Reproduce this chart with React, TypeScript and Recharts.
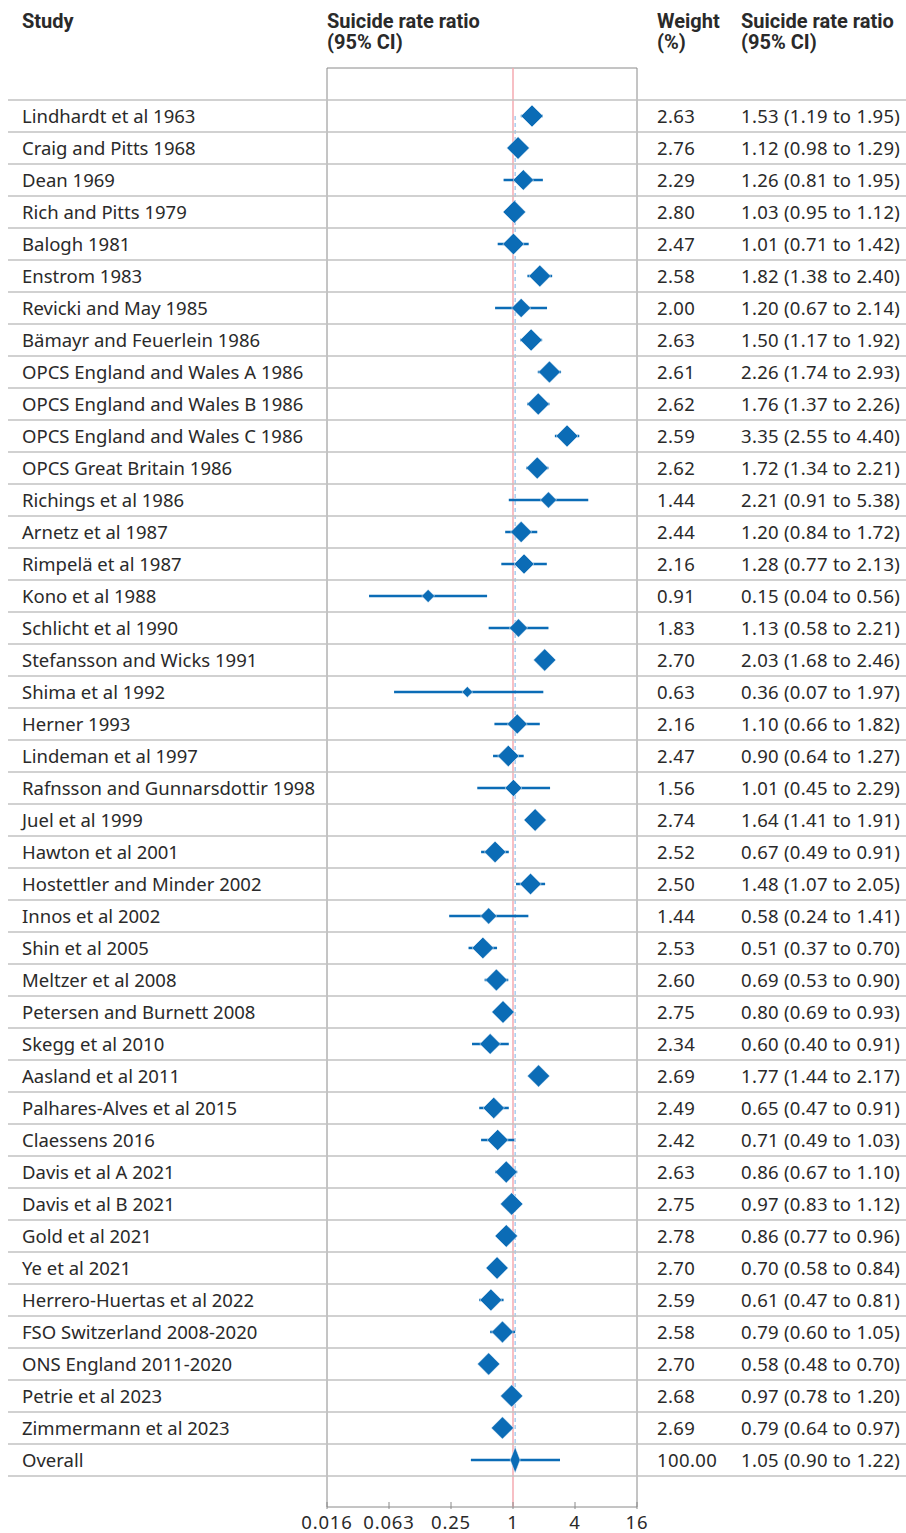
import React from 'react';
import {
  ScatterChart,
  Scatter,
  XAxis,
  YAxis,
  ErrorBar,
  ReferenceLine,
  ReferenceArea,
} from 'recharts';

const studies = [
  'Lindhardt et al 1963',
  'Craig and Pitts 1968',
  'Dean 1969',
  'Rich and Pitts 1979',
  'Balogh 1981',
  'Enstrom 1983',
  'Revicki and May 1985',
  'Bämayr and Feuerlein 1986',
  'OPCS England and Wales A 1986',
  'OPCS England and Wales B 1986',
  'OPCS England and Wales C 1986',
  'OPCS Great Britain 1986',
  'Richings et al 1986',
  'Arnetz et al 1987',
  'Rimpelä et al 1987',
  'Kono et al 1988',
  'Schlicht et al 1990',
  'Stefansson and Wicks 1991',
  'Shima et al 1992',
  'Herner 1993',
  'Lindeman et al 1997',
  'Rafnsson and Gunnarsdottir 1998',
  'Juel et al 1999',
  'Hawton et al 2001',
  'Hostettler and Minder 2002',
  'Innos et al 2002',
  'Shin et al 2005',
  'Meltzer et al 2008',
  'Petersen and Burnett 2008',
  'Skegg et al 2010',
  'Aasland et al 2011',
  'Palhares-Alves et al 2015',
  'Claessens 2016',
  'Davis et al A 2021',
  'Davis et al B 2021',
  'Gold et al 2021',
  'Ye et al 2021',
  'Herrero-Huertas et al 2022',
  'FSO Switzerland 2008-2020',
  'ONS England 2011-2020',
  'Petrie et al 2023',
  'Zimmermann et al 2023',
  'Overall',
];

const weights = [
  2.63, 2.76, 2.29, 2.8, 2.47, 2.58, 2.0, 2.63, 2.61, 2.62, 2.59, 2.62, 1.44, 2.44, 2.16,
  0.91, 1.83, 2.7, 0.63, 2.16, 2.47, 1.56, 2.74, 2.52, 2.5, 1.44, 2.53, 2.6, 2.75, 2.34,
  2.69, 2.49, 2.42, 2.63, 2.75, 2.78, 2.7, 2.59, 2.58, 2.7, 2.68, 2.69, 100.0,
];

const estimates = [
  1.53, 1.12, 1.26, 1.03, 1.01, 1.82, 1.2, 1.5, 2.26, 1.76, 3.35, 1.72, 2.21, 1.2, 1.28,
  0.15, 1.13, 2.03, 0.36, 1.1, 0.9, 1.01, 1.64, 0.67, 1.48, 0.58, 0.51, 0.69, 0.8, 0.6,
  1.77, 0.65, 0.71, 0.86, 0.97, 0.86, 0.7, 0.61, 0.79, 0.58, 0.97, 0.79, 1.05,
];

const lowers = [
  1.19, 0.98, 0.81, 0.95, 0.71, 1.38, 0.67, 1.17, 1.74, 1.37, 2.55, 1.34, 0.91, 0.84, 0.77,
  0.04, 0.58, 1.68, 0.07, 0.66, 0.64, 0.45, 1.41, 0.49, 1.07, 0.24, 0.37, 0.53, 0.69, 0.4,
  1.44, 0.47, 0.49, 0.67, 0.83, 0.77, 0.58, 0.47, 0.6, 0.48, 0.78, 0.64, 0.9,
];

const uppers = [
  1.95, 1.29, 1.95, 1.12, 1.42, 2.4, 2.14, 1.92, 2.93, 2.26, 4.4, 2.21, 5.38, 1.72, 2.13,
  0.56, 2.21, 2.46, 1.97, 1.82, 1.27, 2.29, 1.91, 0.91, 2.05, 1.41, 0.7, 0.9, 0.93, 0.91,
  2.17, 0.91, 1.03, 1.1, 1.12, 0.96, 0.84, 0.81, 1.05, 0.7, 1.2, 0.97, 1.22,
];

// prediction interval drawn as the whisker of the overall row
const predictionInterval = [0.39, 2.86];

const xTicks = [0.015625, 0.0625, 0.25, 1, 4, 16];
const xTickLabels = ['0.016', '0.063', '0.25', '1', '4', '16'];

const BLUE = '#0b6cb6';
const TEXT = '#2a2a2a';
const GRID = '#c2c2c2';
const BODY_FONT = '"Noto Sans", sans-serif';
const HEAD_FONT = 'Roboto, "Noto Sans", sans-serif';

const overallIndex = studies.length - 1;
const yDomain: [number, number] = [-1.5, 43.47];

const rows = studies.map((name, i) => ({
  row: i,
  name,
  weight: weights[i],
  est: estimates[i],
  lo: lowers[i],
  hi: uppers[i],
  overall: i === overallIndex,
}));

const studyRows = rows
  .filter((r) => !r.overall)
  .map((r) => ({ ...r, err: [r.est - r.lo, r.hi - r.est] }));

const overallRows = rows
  .filter((r) => r.overall)
  .map((r) => ({ ...r, err: [r.est - predictionInterval[0], predictionInterval[1] - r.est] }));

const ciText = (i: number) =>
  `${estimates[i].toFixed(2)} (${lowers[i].toFixed(2)} to ${uppers[i].toFixed(2)})`;

const RowTick = (props: any) => {
  const { y, payload } = props;
  const i = payload.value as number;
  return (
    <g>
      {i === 0 && <line x1={8} x2={906} y1={y - 16} y2={y - 16} stroke={GRID} strokeWidth={1.5} />}
      <line x1={8} x2={906} y1={y + 16} y2={y + 16} stroke={GRID} strokeWidth={1.5} />
      <text x={22} y={y + 7} fill={TEXT} fontSize={18.5} fontFamily={BODY_FONT}>
        {studies[i]}
      </text>
      <text x={657} y={y + 7} fill={TEXT} fontSize={18.5} fontFamily={BODY_FONT} letterSpacing={0.4}>
        {weights[i].toFixed(2)}
      </text>
      <text x={741} y={y + 7} fill={TEXT} fontSize={18.5} fontFamily={BODY_FONT} letterSpacing={0.3}>
        {ciText(i)}
      </text>
    </g>
  );
};

const AxisTick = (props: any) => {
  const { x, y, payload } = props;
  const idx = xTicks.indexOf(payload.value);
  return (
    <g>
      <line x1={x} x2={x} y1={y} y2={y - 7} stroke="#8a8a8a" strokeWidth={1} />
      <text
        x={x}
        y={y + 20}
        textAnchor="middle"
        fill={TEXT}
        fontSize={18.5}
        fontFamily={BODY_FONT}
        letterSpacing={0.8}
      >
        {xTickLabels[idx]}
      </text>
    </g>
  );
};

const Diamond = (props: any) => {
  const { cx, cy } = props;
  const p = props.payload ?? props;
  if (cx == null || cy == null) return null;
  let hw: number;
  let hh: number;
  if (p.overall) {
    hw = 5;
    hh = 13;
  } else {
    hw = 6.8 * Math.sqrt(p.weight);
    hh = hw;
  }
  return (
    <polygon
      points={`${cx - hw},${cy} ${cx},${cy - hh} ${cx + hw},${cy} ${cx},${cy + hh}`}
      fill={BLUE}
      stroke="#ffffff"
      strokeWidth={0.5}
    />
  );
};

const headStyle: React.CSSProperties = {
  position: 'absolute',
  fontFamily: HEAD_FONT,
  fontWeight: 700,
  fontSize: 20,
  lineHeight: '21px',
  color: TEXT,
  whiteSpace: 'pre',
};

export default function App() {
  return (
    <div style={{ position: 'absolute', left: 0, top: 0, width: 906, height: 1533, background: '#fff' }}>
      <div style={{ ...headStyle, left: 22, top: 11 }}>Study</div>
      <div style={{ ...headStyle, left: 327, top: 11 }}>{'Suicide rate ratio\n(95% CI)'}</div>
      <div style={{ ...headStyle, left: 657, top: 11 }}>{'Weight\n(%)'}</div>
      <div style={{ ...headStyle, left: 741, top: 11 }}>{'Suicide rate ratio\n(95% CI)'}</div>
      <ScatterChart
        width={906}
        height={1533}
        margin={{ top: 68, right: 269, bottom: 0, left: 267 }}
        style={{ position: 'absolute', left: 0, top: 0 }}
      >
        <XAxis
          type="number"
          dataKey="est"
          scale="log"
          domain={[xTicks[0], xTicks[xTicks.length - 1]]}
          allowDataOverflow
          ticks={xTicks}
          interval={0}
          height={26}
          axisLine={false}
          tickLine={false}
          tickSize={0}
          tick={<AxisTick />}
        />
        <YAxis
          type="number"
          dataKey="row"
          domain={yDomain}
          allowDataOverflow
          reversed
          ticks={rows.map((r) => r.row)}
          interval={0}
          width={60}
          axisLine={false}
          tickLine={false}
          tick={<RowTick />}
        />
        <ReferenceArea
          x1={xTicks[0]}
          x2={xTicks[xTicks.length - 1]}
          y1={yDomain[0]}
          y2={yDomain[1]}
          fill="none"
          stroke="#8a8a8a"
          strokeWidth={1}
          ifOverflow="visible"
        />
        <ReferenceLine
          segment={[
            { x: estimates[overallIndex], y: 0 },
            { x: estimates[overallIndex], y: overallIndex },
          ]}
          stroke="#a9cdee"
          strokeWidth={1.5}
          strokeDasharray="4 3"
          ifOverflow="visible"
        />
        <ReferenceLine x={1} stroke="#f4aab1" strokeWidth={1.5} ifOverflow="visible" />
        <Scatter data={studyRows} shape={<Diamond />} isAnimationActive={false}>
          <ErrorBar dataKey="err" direction="x" width={0} stroke={BLUE} strokeWidth={2.5} />
        </Scatter>
        <Scatter data={overallRows} shape={<Diamond />} isAnimationActive={false}>
          <ErrorBar dataKey="err" direction="x" width={0} stroke={BLUE} strokeWidth={2.5} />
        </Scatter>
      </ScatterChart>
    </div>
  );
}
